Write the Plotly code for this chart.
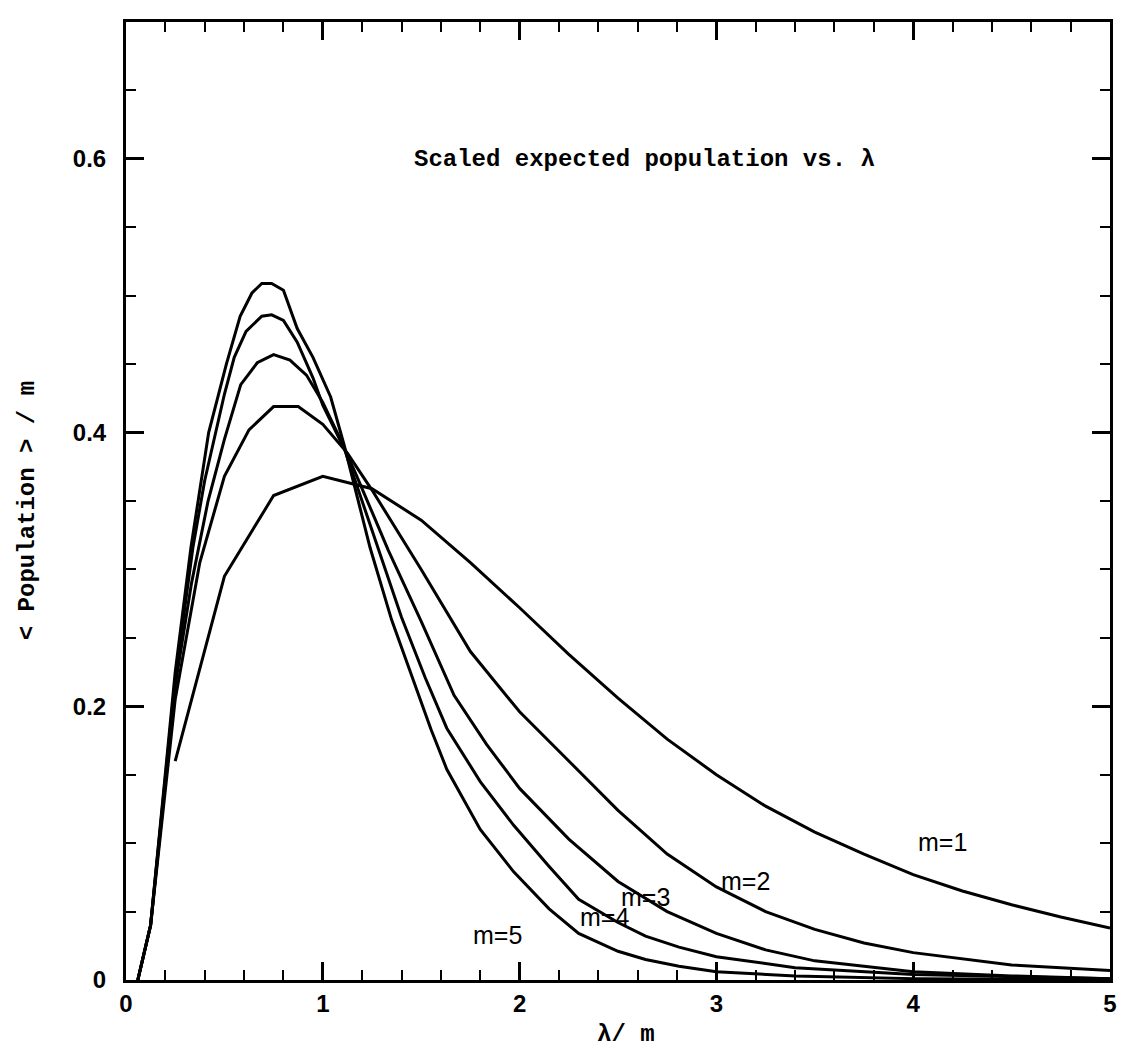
import plotly.graph_objects as go

# ---- data ----
x_m1 = [0.25, 0.5, 0.75, 1.0, 1.25, 1.5, 1.75, 2.0, 2.25, 2.5, 2.75, 3.0, 3.25, 3.5, 3.75, 4.0, 4.25, 4.5, 4.75, 5.0]
y_m1 = [0.160, 0.295, 0.354, 0.368, 0.359, 0.336, 0.305, 0.272, 0.238, 0.206, 0.176, 0.150, 0.127, 0.108, 0.092, 0.077, 0.065, 0.055, 0.046, 0.038]

x_m2 = [0.06, 0.125, 0.25, 0.375, 0.5, 0.625, 0.75, 0.875, 1.0, 1.125, 1.25, 1.5, 1.75, 2.0, 2.25, 2.5, 2.75, 3.0, 3.25, 3.5, 3.75, 4.0, 4.5, 5.0]
y_m2 = [0.0, 0.040, 0.205, 0.305, 0.368, 0.402, 0.419, 0.419, 0.406, 0.385, 0.358, 0.300, 0.240, 0.196, 0.160, 0.124, 0.092, 0.068, 0.050, 0.037, 0.027, 0.020, 0.011, 0.007]

x_m3 = [0.06, 0.125, 0.25, 0.333, 0.417, 0.5, 0.583, 0.667, 0.75, 0.833, 0.917, 1.0, 1.083, 1.167, 1.25, 1.333, 1.5, 1.667, 1.833, 2.0, 2.25, 2.5, 2.75, 3.0, 3.25, 3.5, 4.0, 4.5, 5.0]
y_m3 = [0.0, 0.040, 0.215, 0.290, 0.350, 0.395, 0.435, 0.451, 0.457, 0.453, 0.442, 0.422, 0.397, 0.370, 0.342, 0.314, 0.262, 0.208, 0.172, 0.140, 0.103, 0.072, 0.050, 0.034, 0.022, 0.014, 0.006, 0.003, 0.001]

x_m4 = [0.06, 0.125, 0.25, 0.34, 0.4, 0.5, 0.55, 0.61, 0.69, 0.74, 0.8, 0.87, 0.95, 1.0, 1.11, 1.2, 1.28, 1.4, 1.52, 1.63, 1.8, 1.97, 2.15, 2.3, 2.5, 2.64, 2.81, 3.0, 3.4, 4.0, 5.0]
y_m4 = [0.0, 0.040, 0.220, 0.316, 0.365, 0.428, 0.455, 0.474, 0.485, 0.486, 0.482, 0.466, 0.440, 0.420, 0.388, 0.350, 0.316, 0.265, 0.221, 0.184, 0.145, 0.113, 0.083, 0.059, 0.042, 0.032, 0.024, 0.017, 0.009, 0.004, 0.001]

x_m5 = [0.06, 0.125, 0.25, 0.33, 0.42, 0.51, 0.58, 0.64, 0.69, 0.74, 0.8, 0.87, 0.95, 1.04, 1.11, 1.24, 1.35, 1.455, 1.55, 1.63, 1.8, 1.97, 2.15, 2.3, 2.5, 2.64, 2.81, 3.0, 3.4, 4.0, 5.0]
y_m5 = [0.0, 0.040, 0.225, 0.316, 0.400, 0.450, 0.485, 0.502, 0.509, 0.509, 0.504, 0.476, 0.455, 0.426, 0.390, 0.316, 0.263, 0.221, 0.183, 0.154, 0.110, 0.079, 0.052, 0.034, 0.021, 0.015, 0.010, 0.006, 0.003, 0.001, 0.0]

series_names = ["m=1", "m=2", "m=3", "m=4", "m=5"]
label_x = [4.15, 3.15, 2.64, 2.43, 1.89]
label_y = [0.101, 0.072, 0.061, 0.046, 0.033]

x_tickvals = [0, 1, 2, 3, 4, 5]
x_ticktext = ["0", "1", "2", "3", "4", "5"]
y_tickvals = [0, 0.2, 0.4, 0.6]
y_ticktext = ["0", "0.2", "0.4", "0.6"]

title_text = "Scaled expected population vs. λ"
x_title = "λ/ m"
y_title = "&lt; Population &gt; / m"

# ---- figure ----
fig = go.Figure()
for xs, ys, nm in zip([x_m1, x_m2, x_m3, x_m4, x_m5], [y_m1, y_m2, y_m3, y_m4, y_m5], series_names):
    fig.add_trace(go.Scatter(x=xs, y=ys, mode="lines", name=nm,
                             line=dict(color="black", width=3), showlegend=False))

label_font = dict(family="Liberation Sans, Arial, sans-serif", size=25, color="black")
for lx, ly, nm in zip(label_x, label_y, series_names):
    fig.add_annotation(x=lx, y=ly, text=nm, showarrow=False, font=label_font,
                       xanchor="center", yanchor="middle")

serif_font = dict(family="Liberation Mono, Courier New, monospace", size=24, color="black", weight="bold")
fig.add_annotation(x=0.527, y=0.856, xref="paper", yref="paper", text=title_text,
                   showarrow=False, font=serif_font, xanchor="center", yanchor="middle")
fig.add_annotation(x=0.508, y=-0.057, xref="paper", yref="paper", text=x_title,
                   showarrow=False, font=serif_font, xanchor="center", yanchor="middle")
fig.add_annotation(x=-0.1, y=0.49, xref="paper", yref="paper", text=y_title,
                   showarrow=False, font=serif_font, xanchor="center", yanchor="middle",
                   textangle=-90)

tick_font = dict(family="Liberation Sans, Arial, sans-serif", size=24, color="black", weight="bold")
axis_common = dict(showline=True, linecolor="black", linewidth=3, mirror="ticks",
                   ticks="inside", ticklen=18, tickwidth=2.5, tickcolor="black",
                   showgrid=False, zeroline=False, tickfont=tick_font)

fig.update_xaxes(range=[0, 5], tickvals=x_tickvals, ticktext=x_ticktext,
                 minor=dict(ticks="inside", ticklen=10, tickwidth=2, tickcolor="black", dtick=0.2, showgrid=False),
                 **axis_common)
fig.update_yaxes(range=[0, 0.7], tickvals=y_tickvals, ticktext=y_ticktext,
                 minor=dict(ticks="inside", ticklen=10, tickwidth=2, tickcolor="black", dtick=0.05, showgrid=False),
                 ticklabelstandoff=12, **axis_common)

fig.update_layout(width=1118, height=1045, margin=dict(l=118, r=9, t=14, b=73),
                  plot_bgcolor="white", paper_bgcolor="white")

fig.write_html("out.html")
